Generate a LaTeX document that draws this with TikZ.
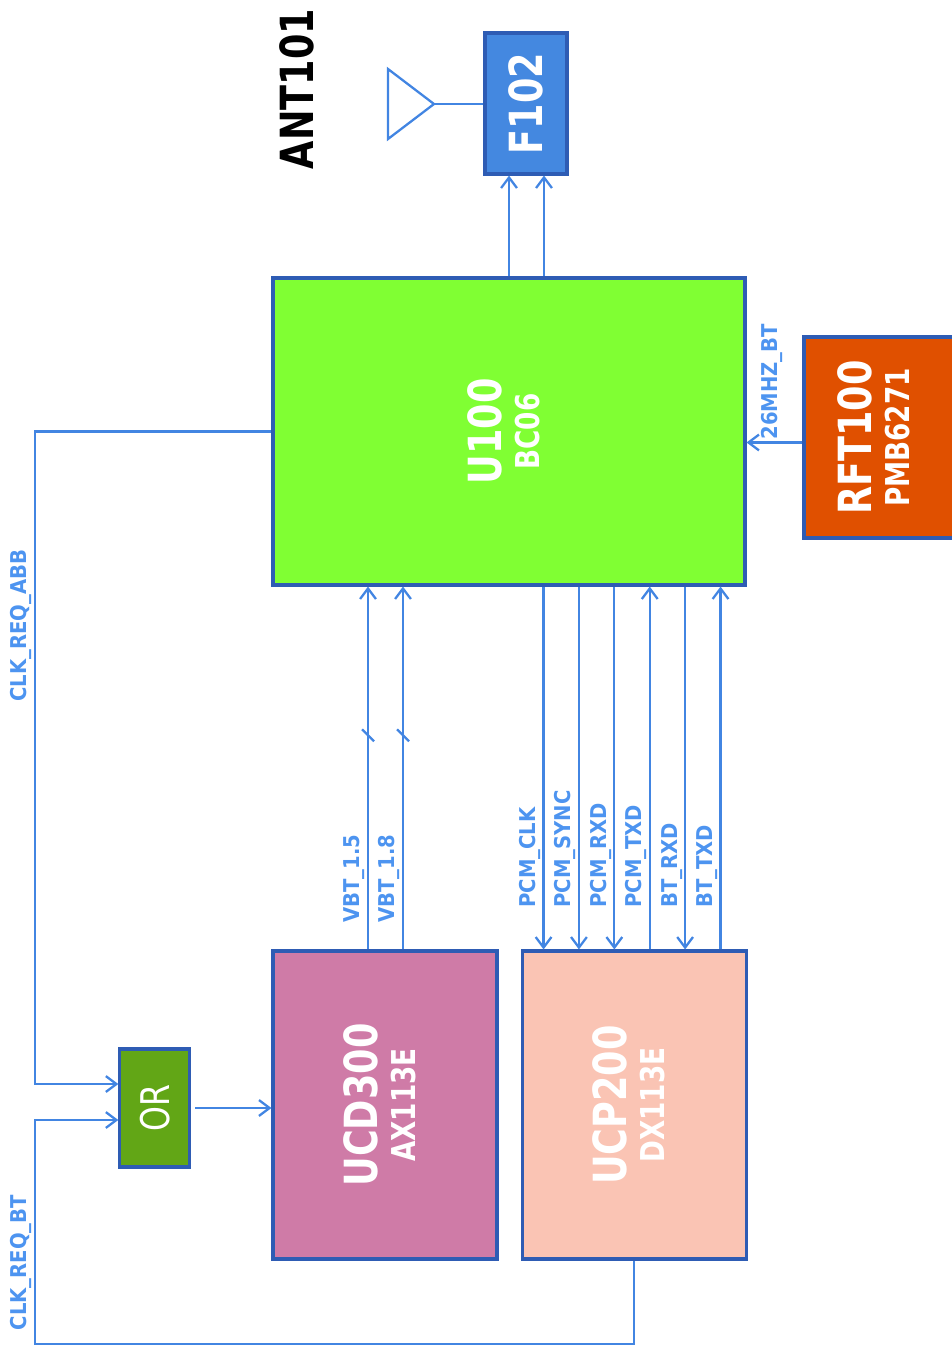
\documentclass[tikz,border=0pt]{standalone}
\usepackage{fontspec}
\usepackage{graphicx}
\setmainfont{DejaVu Sans}
\newfontfamily\chipfont[FakeStretch=0.8]{DejaVu Sans}
\newfontfamily\sigfont[FakeStretch=0.9]{DejaVu Sans}
\usetikzlibrary{arrows.meta, positioning, calc}

\definecolor{wirec}{RGB}{66,133,226}
\definecolor{labc}{RGB}{77,148,240}
\definecolor{edgec}{RGB}{46,92,180}
\definecolor{u100c}{RGB}{128,255,51}
\definecolor{f102c}{RGB}{68,136,224}
\definecolor{rftc}{RGB}{224,80,0}
\definecolor{ucdc}{RGB}{207,123,167}
\definecolor{ucpc}{RGB}{250,196,180}
\definecolor{orc}{RGB}{98,166,22}

\newcommand{\chiptext}[2]{\rotatebox{90}{\begin{tabular}{@{}c@{}}{\fontsize{26}{21.5}\selectfont #1}\\{\fontsize{18.7}{21.5}\selectfont #2}\end{tabular}}}

\begin{document}
\begin{tikzpicture}[
    x=0.02cm, y=-0.02cm,
    >={Straight Barb[length=6pt,width=9pt]},
    chip/.style={rectangle, draw=edgec, line width=1.8pt, text=white, inner sep=0pt, font=\chipfont\bfseries\fontsize{18.7}{21.5}\selectfont},
    wire/.style={draw=wirec, line width=1.3pt},
    siglab/.style={rotate=90, anchor=south west, inner sep=1pt, text=labc, font=\sigfont\bfseries\fontsize{12.4}{14}\selectfont}
]
    \useasboundingbox (0,0) rectangle (951,1346);

    \node[chip, fill=u100c, minimum width=9.44cm, minimum height=6.14cm] (u100) at (509,431.5) {\chiptext{U100}{BC06}};
    \node[chip, fill=f102c, minimum width=1.64cm, minimum height=2.82cm] (f102) at (526,103.5) {\rotatebox{90}{\fontsize{26}{28}\selectfont F102}};
    \node[chip, fill=rftc, minimum width=3.0cm, minimum height=4.02cm] (rft) at (879,437.5) {\chiptext{RFT100}{PMB6271}};
    \node[chip, fill=ucdc, minimum width=4.48cm, minimum height=6.16cm] (ucd) at (385,1105) {\chiptext{UCD300}{AX113E}};
    \node[chip, fill=ucpc, minimum width=4.48cm, minimum height=6.16cm, right=0.44cm of ucd] (ucp) {\chiptext{UCP200}{DX113E}};
    \node[chip, fill=orc, minimum width=1.4cm, minimum height=2.36cm, left=1.6cm of ucd, yshift=-0.06cm, font=\chipfont\fontsize{22.5}{24}\selectfont] (orgate) {\rotatebox{90}{OR}};
    \node[rotate=90, font=\chipfont\bfseries\fontsize{26}{28}\selectfont] (antlab) at (297,89) {ANT101};

    % antenna
    \coordinate (ant) at (434,104);
    \draw[wire] (ant) -- (388,69) -- (388,139) -- cycle;
    \draw[wire] (ant) -- (ant -| f102.west);

    % RF path to the filter
    \coordinate (fa) at ([xshift=-0.34cm]f102.south);
    \coordinate (fb) at ([xshift=0.36cm]f102.south);
    \draw[wire, ->] (fa |- u100.north) -- (fa);
    \draw[wire, ->] (fb |- u100.north) -- (fb);

    % reference clock
    \coordinate (clk26) at ([yshift=-0.1cm]rft.west);
    \draw[wire, ->] (clk26) -- node[siglab, midway, anchor=west, yshift=0.06cm] {26MHZ\_BT} (clk26 -| u100.east);

    % supplies
    \coordinate (v15) at ([xshift=-0.34cm]ucd.north);
    \coordinate (v18) at ([xshift=0.36cm]ucd.north);
    \foreach \p/\lab in {v15/VBT\_1.5, v18/VBT\_1.8} {
        \draw[wire, ->] (\p) -- coordinate[pos=0.59] (\p m) node[siglab, pos=0.071, xshift=-0.04cm] {\lab} (\p |- u100.south);
        \draw[wire] ([shift={(-6,-6)}]\p m) -- ([shift={(6,6)}]\p m);
    }

    % PCM and UART lines
    \foreach \lab/\tip [count=\i from 0] in {PCM\_CLK/<-, PCM\_SYNC/<-, PCM\_RXD/<-, PCM\_TXD/->, BT\_RXD/<-, BT\_TXD/->} {
        \coordinate (pcm\i) at ([xshift=0.46cm+\i*0.708cm]ucp.north west);
        \draw[wire, arrows/.expanded=\tip] (pcm\i) -- node[siglab, pos=0.107] {\lab} (pcm\i |- u100.south);
    }

    % clock requests
    \coordinate (rail) at (35,0);
    \coordinate (floor) at (0,1344);
    \coordinate (orin1) at ([yshift=0.48cm]orgate.west);
    \coordinate (orin2) at ([yshift=-0.24cm]orgate.west);
    \draw[wire, ->] (u100.west) -- (u100.west -| rail) -- node[siglab, pos=0.414, xshift=-0.06cm] {CLK\_REQ\_ABB} (orin1 -| rail) -- (orin1);
    \draw[wire, ->] (ucp.south) -- (ucp.south |- floor) -- (floor -| rail) -- node[siglab, pos=0.0625, xshift=-0.06cm] {CLK\_REQ\_BT} (orin2 -| rail) -- (orin2);
    \draw[wire, ->] ([xshift=0.08cm]orgate.east) -- (orgate.east -| ucd.west);

\end{tikzpicture}
\end{document}
